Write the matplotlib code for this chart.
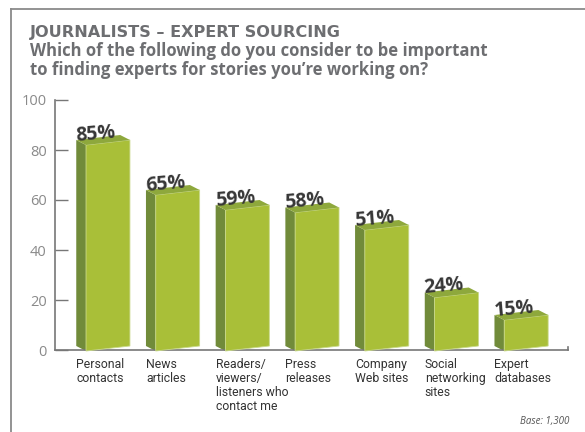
import matplotlib
matplotlib.use("Agg")
import matplotlib.pyplot as plt
from matplotlib.lines import Line2D

categories = ["Personal\ncontacts", "News\narticles",
              "Readers/\nviewers/\nlisteners who\ncontact me",
              "Press\nreleases", "Company\nWeb sites",
              "Social\nnetworking\nsites", "Expert\ndatabases"]
values = [85, 65, 59, 58, 51, 24, 15]
yticks = [0, 20, 40, 60, 80, 100]

title = "JOURNALISTS \u2013 EXPERT SOURCING"
subtitle = ["Which of the following do you consider to be important",
            "to finding experts for stories you\u2019re working on?"]
base_note = "Base: 1,300"

FRONT = "#a9bf38"
SIDE = "#718b3a"
TOP = "#8ea83c"
GREY = "#6d6e71"

fig = plt.figure(figsize=(5.85, 4.32), dpi=100)
ax = fig.add_axes([55 / 585, 82 / 432, 513 / 585, 250 / 432])

half = 0.315         # half width of the front face
dx, dy = -0.14, 2.0  # depth of the box, going back and to the left
skew = 2.0           # perspective tilt of the front face
for i, v in enumerate(values):
    xl, xr = i - half, i + half
    b0 = -0.4
    t_l, t_r = v - 1.0 - skew, v - 1.0
    # side face
    ax.fill([xl, xl, xl + dx, xl + dx], [b0, t_l, t_l + dy, b0 + dy],
            color=SIDE, lw=0, clip_on=False, zorder=2)
    # front face
    ax.fill([xl, xr, xr, xl], [b0, b0 + skew, t_r, t_l],
            facecolor=FRONT, edgecolor="#c9d98a", lw=0.6, clip_on=False, zorder=3)
    # top face
    ax.fill([xl, xr, xr + dx, xl + dx], [t_l, t_r, t_r + dy, t_l + dy],
            color=TOP, lw=0, clip_on=False, zorder=3)
    ax.text(i - 0.17, v - 0.6, f"{v}%", ha="center", va="baseline",
            rotation=5, rotation_mode="anchor", fontsize=14,
            fontweight="bold", family="Open Sans", color="#363636", zorder=4)
    ax.annotate(categories[i], xy=(i - 0.455, 0), xycoords=("data", "axes fraction"),
                xytext=(0, -6), textcoords="offset points", ha="left", va="top",
                fontsize=8.8, family="Roboto", color="#333333", linespacing=1.1)

ax.set_xlim(-0.76, 6.6)
ax.set_ylim(0, 100)
ax.set_yticks(yticks)
ax.set_xticks([])
ax.tick_params(axis="y", direction="in", length=9.5, width=1, color="#777777",
               labelcolor="#8a8a8a", labelsize=10.5, pad=6)
for lab in ax.get_yticklabels():
    lab.set_family("Open Sans")
for side in ["top", "right"]:
    ax.spines[side].set_visible(False)
for side in ["left", "bottom"]:
    ax.spines[side].set_color("#777777")
    ax.spines[side].set_linewidth(1.2)
ax.patch.set_visible(False)
# small end mark on the baseline
ax.plot([1, 1], [0, 0.012], transform=ax.transAxes, color="#777777",
        lw=1.2, clip_on=False)

# frame lines round the panel
fig.add_artist(Line2D([11 / 585, 11 / 585], [0, 1 - 9 / 432], color="#8a8a8a", lw=1.3))
fig.add_artist(Line2D([11 / 585, 1], [1 - 9 / 432, 1 - 9 / 432], color="#8a8a8a", lw=1.3))

fig.text(30 / 585, 1 - 37 / 432, title, fontsize=11.6, fontweight="heavy",
         family="DejaVu Sans", color=GREY, va="baseline")
fig.text(30 / 585, 1 - 56 / 432, subtitle[0], fontsize=12, fontweight="bold",
         family="Open Sans", color=GREY, va="baseline")
fig.text(30 / 585, 1 - 75 / 432, subtitle[1], fontsize=12, fontweight="bold",
         family="Open Sans", color=GREY, va="baseline")
fig.text(569 / 585, 1 - 424 / 432, base_note, fontsize=7, style="italic",
         family="Open Sans", color="#555555", ha="right", va="baseline")

fig.savefig("out.png", dpi=100, facecolor="white")
